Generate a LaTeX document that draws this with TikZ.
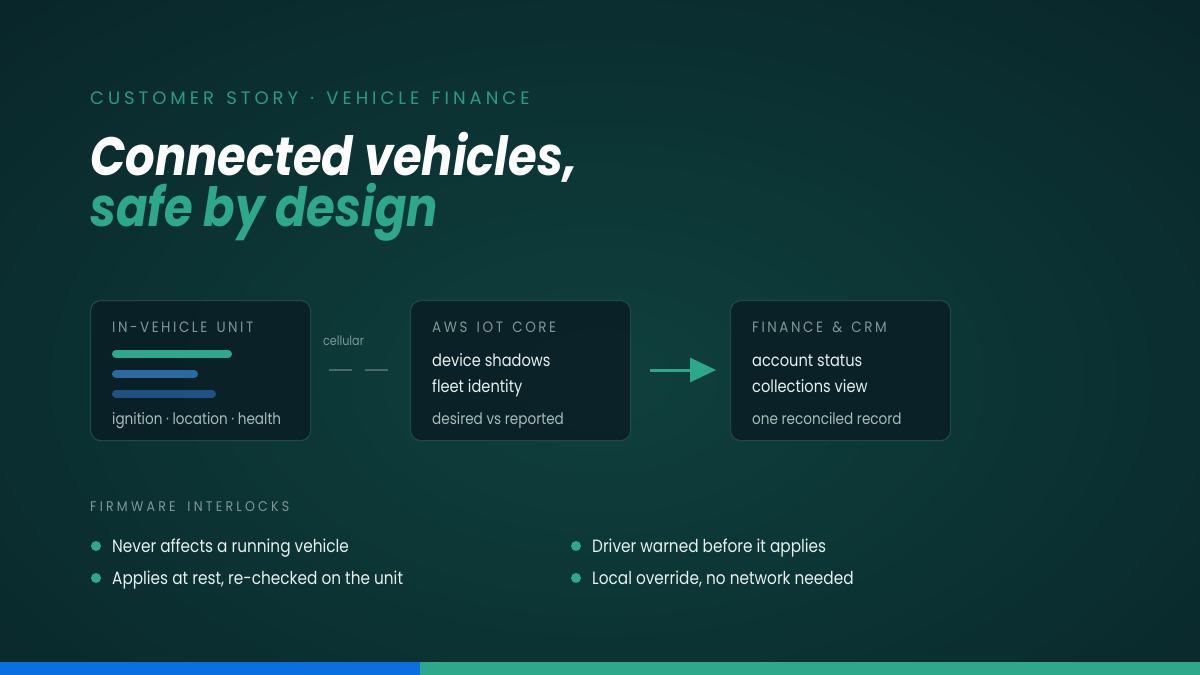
\documentclass[tikz,border=0pt]{standalone}
\usepackage{fontspec}
\setmainfont[FakeStretch=0.86]{Poppins}
\newfontfamily\ttlfont[FakeStretch=0.86]{Poppins}
\newfontfamily\capsfont[LetterSpace=17,WordSpace=1.5,FakeStretch=0.9]{Poppins}
\newfontfamily\kickerfont[LetterSpace=22,WordSpace=1.4]{Poppins}
\newfontfamily\sectfont[LetterSpace=23,WordSpace=1.8,FakeStretch=0.9]{Poppins}
\usetikzlibrary{arrows.meta}
\definecolor{bgedge}{HTML}{061920}
\definecolor{bgmid}{HTML}{0F403E}
\definecolor{accent}{HTML}{2EA88A}
\definecolor{kickcol}{HTML}{2B9C82}
\definecolor{boxfill}{HTML}{0A1F26}
\definecolor{boxline}{HTML}{1F4A47}
\definecolor{capgray}{HTML}{7F9898}
\definecolor{subgray}{HTML}{A9BCBB}
\definecolor{bodytext}{HTML}{E6F0EE}
\definecolor{barblue}{HTML}{2A6AA0}
\definecolor{bardeep}{HTML}{1F5283}
\definecolor{dashgray}{HTML}{4A6A68}
\definecolor{stripblue}{HTML}{0A70E0}
\tikzset{
  card/.style={draw=boxline, line width=1.2pt, fill=boxfill, fill opacity=0.9, rounded corners=10pt, minimum width=220pt, minimum height=140pt, inner sep=0pt},
  caplabel/.style={anchor=base west, inner sep=0pt, text=capgray, font=\capsfont\fontsize{15}{17}\selectfont},
  mainlabel/.style={anchor=base west, inner sep=0pt, text=bodytext, font=\fontsize{17}{20}\selectfont},
  sublabel/.style={anchor=base west, inner sep=0pt, text=subgray, font=\fontsize{15.8}{18}\selectfont},
  barline/.style={line width=8pt, line cap=round},
  bulletdot/.style={circle, fill=accent, minimum size=10pt, inner sep=0pt},
  btext/.style={anchor=base west, inner sep=0pt, text=bodytext, font=\fontsize{17.8}{20}\selectfont}
}
\begin{document}
\begin{tikzpicture}[x=1pt,y=-1pt]
\useasboundingbox (0,0) rectangle (1200,675);
\fill[bgedge] (0,0) rectangle (1200,675);
\begin{scope}
\clip (0,0) rectangle (1200,675);
\shade[inner color=bgmid, outer color=bgedge] (-700,-420) rectangle (1900,1180);
\end{scope}
% header
\node[anchor=base west, inner sep=0pt, text=kickcol, font=\kickerfont\fontsize{18}{20}\selectfont] (kicker) at (90,104) {CUSTOMER STORY · VEHICLE FINANCE};
\node[anchor=base west, inner sep=0pt, text=white, font=\ttlfont\bfseries\itshape\fontsize{54}{60}\selectfont] (title1) at (90,175) {Connected vehicles,};
\node[anchor=base west, inner sep=0pt, text=accent, font=\ttlfont\bfseries\itshape\fontsize{54}{60}\selectfont] (title2) at (90,226) {safe by design};
% cards
\node[card, anchor=north west] (c1) at (90,300) {};
\node[card, anchor=north west] (c2) at (410,300) {};
\node[card, anchor=north west] (c3) at (730,300) {};
% card 1
\node[caplabel] (c1h) at (112,332) {IN-VEHICLE UNIT};
\draw[barline, accent] (116,354) -- (228,354);
\draw[barline, barblue] (116,374) -- (194,374);
\draw[barline, bardeep] (116,394) -- (212,394);
\node[sublabel] (c1s) at (112,424) {ignition · location · health};
% connector 1
\node[anchor=base, inner sep=0pt, text=capgray, font=\fontsize{13}{14}\selectfont] (cell) at (343.5,345) {cellular};
\coordinate (d1) at (329,370);
\coordinate (d2) at (389,370);
\draw[dashgray, line width=2.5pt, dash pattern=on 23pt off 13pt] (d1) -- (d2);
% card 2
\node[caplabel] (c2h) at (432,332) {AWS IOT CORE};
\node[mainlabel] (c2a) at (432,366) {device shadows};
\node[mainlabel] (c2b) at (432,392) {fleet identity};
\node[sublabel] (c2s) at (432,424) {desired vs reported};
% arrow
\coordinate (a1) at (650,370);
\coordinate (a2) at (716,370);
\draw[accent, line width=3pt, -{Triangle[length=26pt, width=24pt]}] (a1) -- (a2);
% card 3
\node[caplabel] (c3h) at (752,332) {FINANCE \& CRM};
\node[mainlabel] (c3a) at (752,366) {account status};
\node[mainlabel] (c3b) at (752,392) {collections view};
\node[sublabel] (c3s) at (752,424) {one reconciled record};
% interlocks
\node[anchor=base west, inner sep=0pt, text=capgray, font=\sectfont\fontsize{14}{16}\selectfont] (fw) at (90,511) {FIRMWARE INTERLOCKS};
\node[bulletdot] (b1) at (96,546) {};
\node[btext] (t1) at (112,552) {Never affects a running vehicle};
\node[bulletdot] (b2) at (96,578) {};
\node[btext] (t2) at (112,584) {Applies at rest, re-checked on the unit};
\node[bulletdot] (b3) at (576,546) {};
\node[btext] (t3) at (592,552) {Driver warned before it applies};
\node[bulletdot] (b4) at (576,578) {};
\node[btext] (t4) at (592,584) {Local override, no network needed};
% bottom strip
\fill[stripblue] (0,662) rectangle (420,675);
\fill[accent] (420,662) rectangle (1200,675);
\end{tikzpicture}
\end{document}
